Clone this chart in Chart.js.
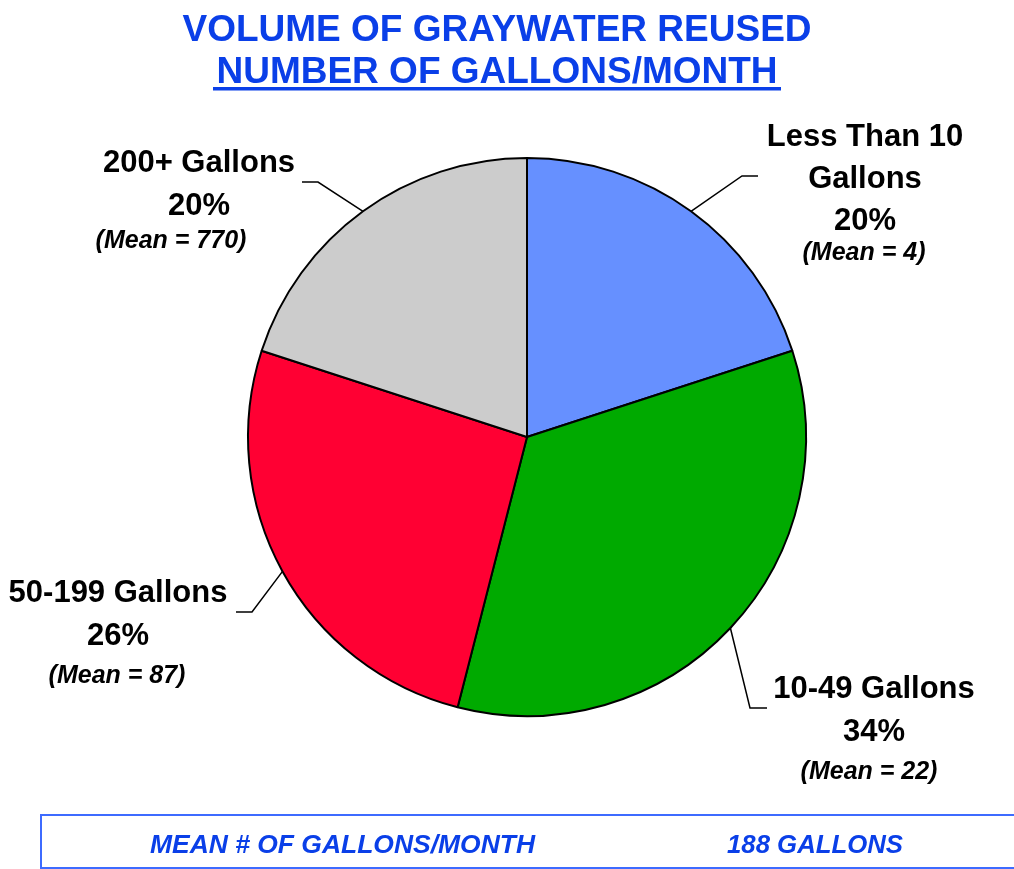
<!DOCTYPE html>
<html>
<head>
<meta charset="utf-8">
<script src="https://cdn.jsdelivr.net/npm/chart.js@4.4.1/dist/chart.umd.min.js"></script>
<style>
  html, body { margin: 0; padding: 0; background: #fff; }
  #wrap { position: relative; width: 1014px; height: 869px; }
</style>
</head>
<body>
<div id="wrap"><canvas id="pieCanvas" width="1014" height="869"></canvas></div>
<script>
// donnees
var categories = ['Less Than 10\nGallons', '10-49 Gallons', '50-199 Gallons', '200+ Gallons'];
var percents = [20, 34, 26, 20];
var means = [4, 22, 87, 770];
var sliceColors = ['#6690FF', '#00AA00', '#FF0033', '#CCCCCC'];

var titleLines = ['VOLUME OF GRAYWATER REUSED', 'NUMBER OF GALLONS/MONTH'];
var footerLabel = 'MEAN # OF GALLONS/MONTH';
var footerValue = '188 GALLONS';

var blue = '#0A3FE8';

// position des etiquettes (centre x, lignes de base, coude du trait)
var labelLayout = [
    { x: 865, base: [146, 188, 230], mx: 864, my: 260, elbow: [742, 176], tail: 758 },
    { x: 874, base: [698, 741], mx: 869, my: 779, elbow: [750, 708], tail: 767 },
    { x: 118, base: [602, 645], mx: 117, my: 683, elbow: [252, 612], tail: 236 },
    { x: 199, base: [172, 215], mx: 171, my: 248, elbow: [318, 182], tail: 302 }
];

function fitText(ctx, txt, x0, x1, y) {
    var w = ctx.measureText(txt).width;
    ctx.save();
    ctx.translate(x0, y);
    ctx.scale((x1 - x0) / w, 1);
    ctx.textAlign = 'left';
    ctx.fillText(txt, 0, 0);
    ctx.restore();
}

var decorPlugin = {
    id: 'decor',
    afterDraw: function (chart) {
        var ctx = chart.ctx;
        var meta = chart.getDatasetMeta(0);
        ctx.save();

        // titre
        ctx.fillStyle = blue;
        ctx.font = 'bold 37px "Liberation Sans", Arial, sans-serif';
        ctx.textAlign = 'center';
        ctx.textBaseline = 'alphabetic';
        ctx.fillText(titleLines[0], 497, 41);
        ctx.fillText(titleLines[1], 497, 83);
        ctx.fillRect(213, 87, 568, 3.5);

        // etiquettes + traits
        ctx.fillStyle = '#000';
        ctx.strokeStyle = '#000';
        ctx.lineWidth = 1.5;
        meta.data.forEach(function (arc, i) {
            var L = labelLayout[i];
            var mid = (arc.startAngle + arc.endAngle) / 2;
            var px = arc.x + Math.cos(mid) * arc.outerRadius;
            var py = arc.y + Math.sin(mid) * arc.outerRadius;
            ctx.beginPath();
            ctx.moveTo(px, py);
            ctx.lineTo(L.elbow[0], L.elbow[1]);
            ctx.lineTo(L.tail, L.elbow[1]);
            ctx.stroke();

            var lines = categories[i].split('\n').concat([percents[i] + '%']);
            ctx.font = 'bold 31px "Liberation Sans", Arial, sans-serif';
            ctx.textAlign = 'center';
            lines.forEach(function (t, k) {
                ctx.fillText(t, L.x, L.base[k]);
            });
            ctx.font = 'italic bold 25px "Liberation Sans", Arial, sans-serif';
            ctx.fillText('(Mean = ' + means[i] + ')', L.mx, L.my);
        });

        // cadre du bas
        ctx.strokeStyle = '#3D6BFF';
        ctx.lineWidth = 2;
        ctx.strokeRect(41, 815, 1000, 53);
        ctx.fillStyle = blue;
        ctx.font = 'italic bold 26px "Liberation Sans", Arial, sans-serif';
        fitText(ctx, footerLabel, 150, 535, 853);
        fitText(ctx, footerValue, 727, 903, 853);

        ctx.restore();
    }
};

var ctx1 = document.getElementById('pieCanvas').getContext('2d');
var pieChart = new Chart(ctx1, {
    type: 'pie',
    data: {
        labels: categories,
        datasets: [{
            data: percents,
            backgroundColor: sliceColors,
            borderColor: '#000',
            borderWidth: 2
        }]
    },
    options: {
        responsive: false,
        animation: false,
        layout: { padding: { left: 247, right: 207, top: 157, bottom: 152 } },
        plugins: {
            legend: { display: false },
            tooltip: { enabled: false }
        }
    },
    plugins: [decorPlugin]
});
</script>
</body>
</html>
